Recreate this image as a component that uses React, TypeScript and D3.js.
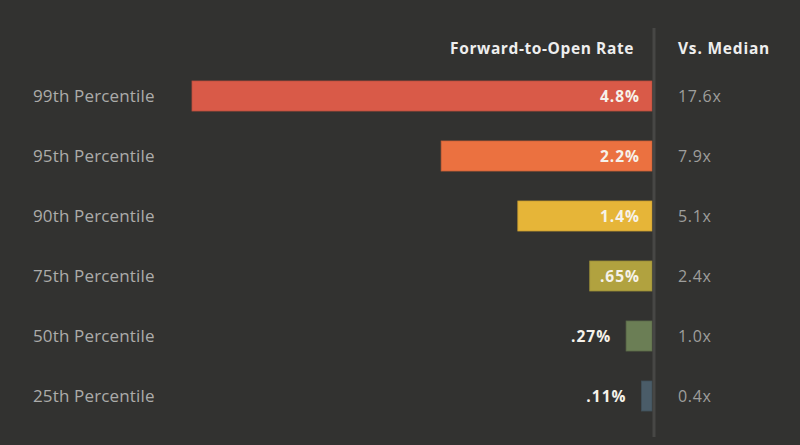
import React from "react";
import * as d3 from "d3";

const categories = ["99th Percentile", "95th Percentile", "90th Percentile", "75th Percentile", "50th Percentile", "25th Percentile"];
const rates = [4.8, 2.2, 1.4, 0.65, 0.27, 0.11];
const rateLabels = ["4.8%", "2.2%", "1.4%", ".65%", ".27%", ".11%"];
const vsMedian = ["17.6x", "7.9x", "5.1x", "2.4x", "1.0x", "0.4x"];
const colors = ["#d95a48", "#eb7140", "#e6b538", "#b1a23f", "#6b7e55", "#4a5c68"];

const W = 800, H = 445;
const FONT = "'Open Sans', Lato, sans-serif";

export default function App() {
  const x = d3.scaleLinear().domain([0, 4.8]).range([652, 192]);
  const y = d3.scaleBand().domain(categories).range([66, 426]).paddingInner(0.5).paddingOuter(0.25);
  return (
    <svg width={W} height={H} style={{ position: "absolute", left: 0, top: 0, display: "block" }}>
      <rect width={W} height={H} fill="#323230" />
      <text x={634} y={54} textAnchor="end" fill="#eeeeee" fontFamily={FONT} fontWeight="bold" fontSize={15.5} letterSpacing={0.6}>Forward-to-Open Rate</text>
      <text x={678} y={54} fill="#eeeeee" fontFamily={FONT} fontWeight="bold" fontSize={15.5} letterSpacing={0.8}>Vs. Median</text>
      {categories.map((c, i) => {
        const yy = y(c)!;
        const bw = y.bandwidth();
        const x0 = x(rates[i]);
        const inside = x(0) - x0 > 50;
        return (
          <g key={c}>
            <text x={33} y={yy + bw / 2} dy="0.36em" fill="#acacaa" fontFamily={FONT} fontSize={17} letterSpacing={0.15}>{c}</text>
            <rect x={x0} y={yy} width={x(0) - x0} height={bw} fill={colors[i]} stroke={d3.color(colors[i])!.darker(0.4).toString()} strokeWidth={0.8} />
            <text x={inside ? x(0) - 12 : x0 - 15} y={yy + bw / 2} dy="0.36em" textAnchor="end" fill="#f6f2ea" fontFamily={FONT} fontWeight="bold" fontSize={15.5} letterSpacing={1}>{rateLabels[i]}</text>
            <text x={678} y={yy + bw / 2} dy="0.36em" fill="#9e9e9c" fontFamily={FONT} fontSize={16} letterSpacing={0.7}>{vsMedian[i]}</text>
          </g>
        );
      })}
      <line x1={654} x2={654} y1={28} y2={437} stroke="#474745" strokeWidth={3} />
    </svg>
  );
}
